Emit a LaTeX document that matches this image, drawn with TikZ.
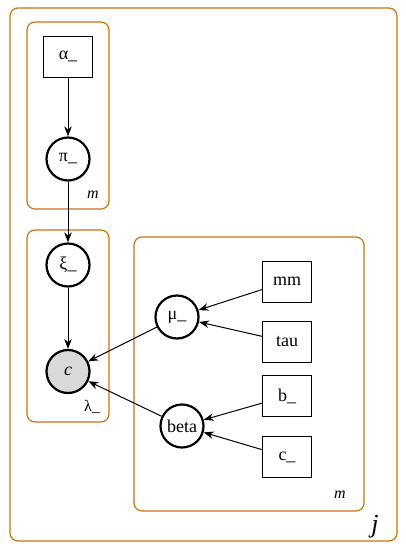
\documentclass[tikz,border=0pt]{standalone}
\usepackage{fontspec}
\setmainfont{Liberation Serif}
\usetikzlibrary{arrows.meta}
\definecolor{plateorange}{RGB}{204,112,20}
\definecolor{obsgray}{RGB}{217,217,217}
\tikzset{
  plate/.style={draw=plateorange, line width=1.2pt, rounded corners=8pt, inner sep=0pt},
  latent/.style={circle, draw, line width=2.2pt, minimum size=43pt, inner sep=0pt, font=\fontsize{18}{20}\selectfont},
  obs/.style={latent, fill=obsgray},
  param/.style={rectangle, draw, line width=1pt, minimum width=49pt, minimum height=41pt, inner sep=0pt, font=\fontsize{18}{20}\selectfont},
  edge/.style={-{Stealth[length=10pt,width=7.5pt]}, line width=1pt},
  platelabel/.style={font=\fontsize{16}{18}\selectfont\itshape, inner sep=0pt}
}
\begin{document}
\begin{tikzpicture}[x=1pt,y=-1pt]
\useasboundingbox (0,0) rectangle (406,550);
% plates
\node[plate, minimum width=387pt, minimum height=533pt] (outer) at (203.5,274.5) {};
\node[plate, minimum width=82pt, minimum height=187pt] (plateA) at (68,115.5) {};
\node[plate, minimum width=82pt, minimum height=192pt] (plateB) at (68,326) {};
\node[plate, minimum width=230pt, minimum height=274pt] (plateC) at (249,374) {};
% plate labels
\node[platelabel] (lA) at (93,195) {m};
\node[platelabel, font=\fontsize{16}{18}\selectfont] (lB) at (92,407) {λ\_};
\node[platelabel] (lC) at (340,495) {m};
\node[platelabel, font=\fontsize{26}{28}\selectfont\itshape] (lO) at (375,527) {j};
% nodes
\node[param] (alpha) at (68,56.5) {α\_};
\node[latent] (pi) at (68,159) {π\_};
\node[latent] (xi) at (68,265) {ξ\_};
\node[obs] (c) at (68,371.5) {\itshape c};
\node[latent] (mu) at (177,317) {μ\_};
\node[latent] (beta) at (182,426) {beta};
\node[param] (mm) at (287,281.5) {mm};
\node[param] (tau) at (287,342) {tau};
\node[param] (b) at (287,396) {b\_};
\node[param] (cc) at (287,457) {c\_};
% edges
\draw[edge] (alpha) -- (pi);
\draw[edge] (pi) -- (xi);
\draw[edge] (xi) -- (c);
\draw[edge] (mu) -- (c);
\draw[edge] (beta) -- (c);
\draw[edge] (mm) -- (mu);
\draw[edge] (tau) -- (mu);
\draw[edge] (b) -- (beta);
\draw[edge] (cc) -- (beta);
\end{tikzpicture}
\end{document}
